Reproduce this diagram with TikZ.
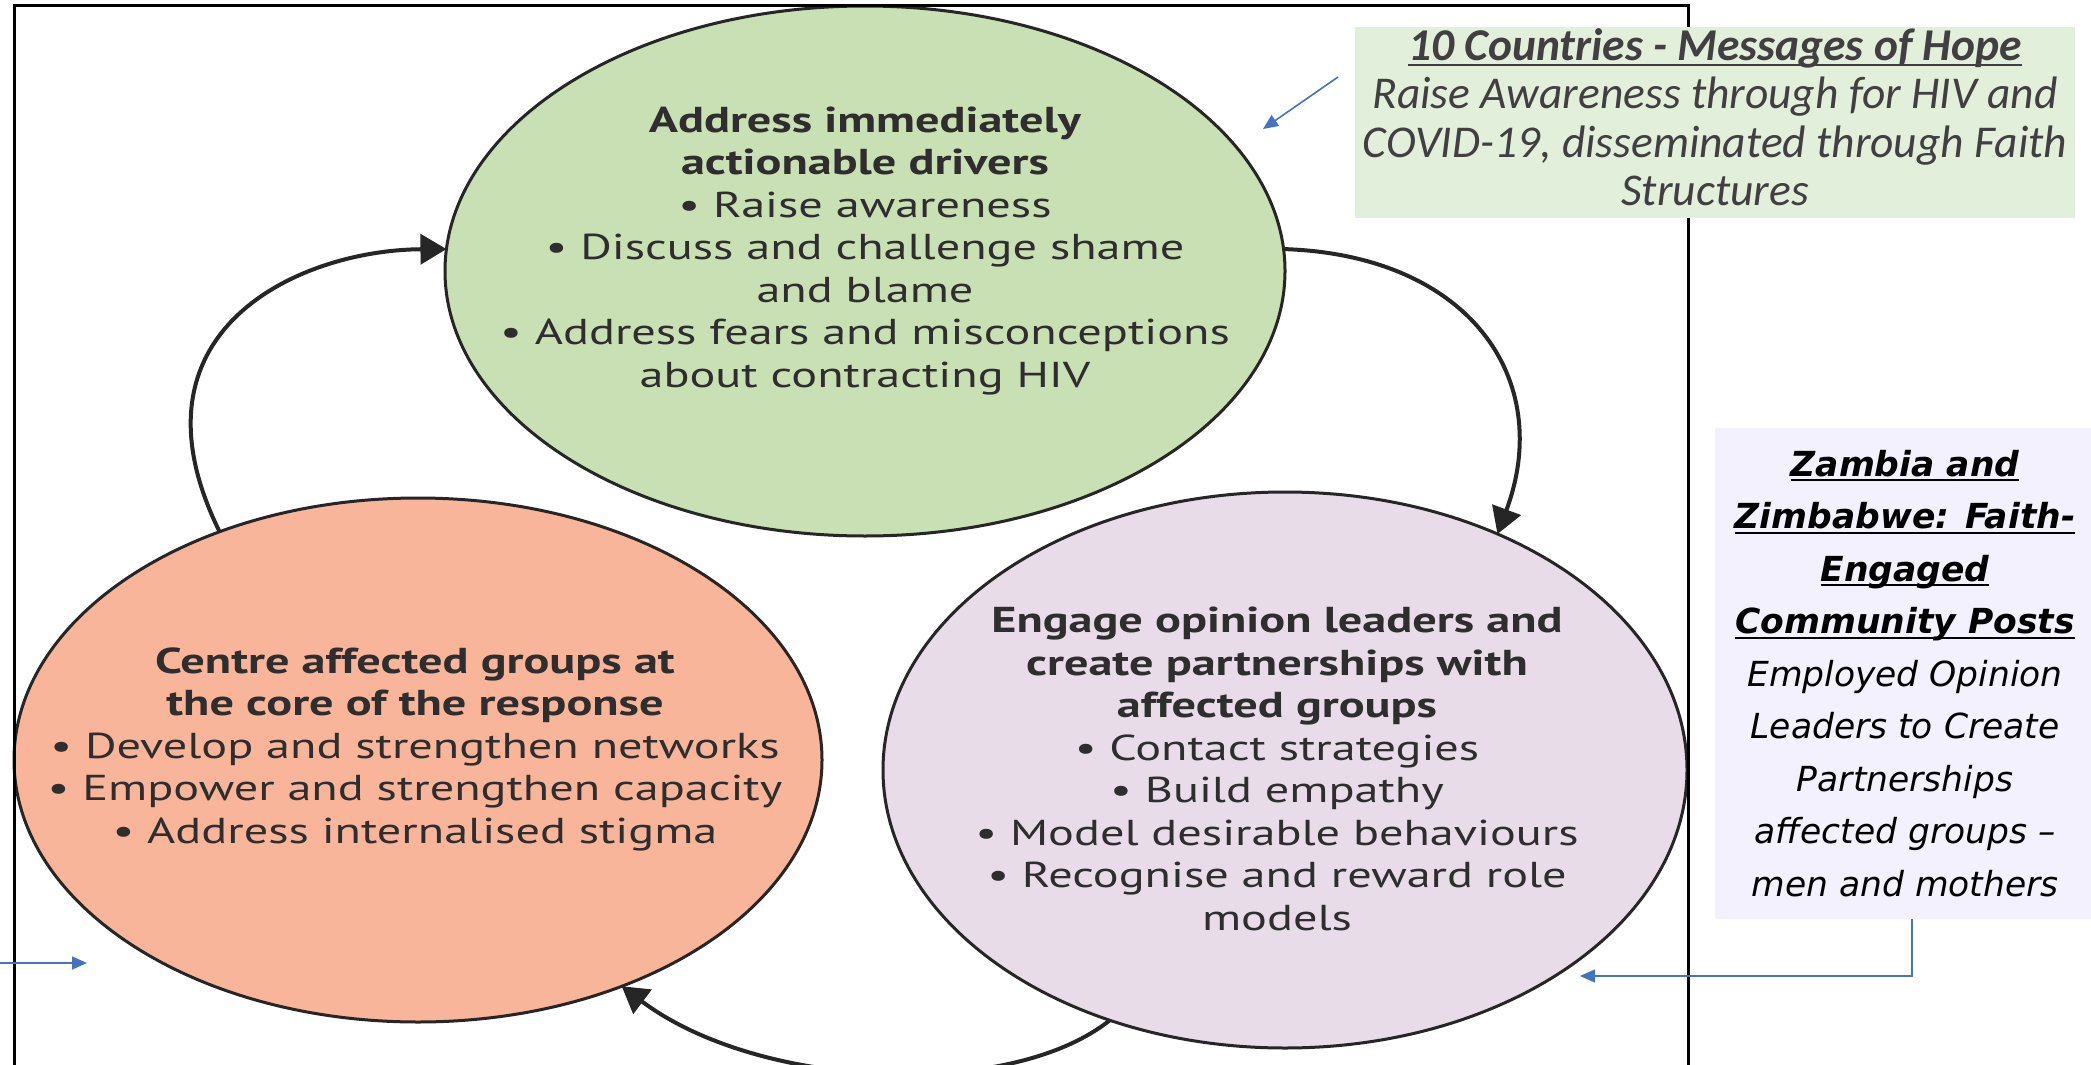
\documentclass[tikz,border=0pt]{standalone}
\usepackage{fontspec}
\setmainfont{PT Sans}
\newfontfamily\ellfont[FakeStretch=1.34]{PT Sans}
\newfontfamily\calfont{Carlito}
\newfontfamily\verfont{DejaVu Sans}
\usetikzlibrary{shapes.geometric,arrows.meta}
\definecolor{gfill}{HTML}{C9E0B4}
\definecolor{sfill}{HTML}{F8B59A}
\definecolor{pfill}{HTML}{E8DCE8}
\definecolor{cafill}{HTML}{E2EFDA}
\definecolor{cbfill}{HTML}{F3F1FD}
\definecolor{ink}{HTML}{2E2E2E}
\definecolor{calink}{HTML}{404040}
\definecolor{bluel}{HTML}{4472C4}
\newcommand\ulx[1]{\setbox0\hbox{#1}\rlap{\rule[-0.14em]{\wd0}{0.06em}}\box0}
\begin{document}
\begin{tikzpicture}[x=1pt,y=-1pt,
  ell/.style={ellipse, draw=black!85, line width=3pt, inner sep=0pt, outer sep=0pt},
  elltext/.style={align=center, inner sep=0pt, text=ink, font=\ellfont\fontsize{36}{42.5}\selectfont},
  cyclearrow/.style={line width=4pt, draw=black!85, -{Triangle[length=26pt,width=30pt]}},
  bluearrow/.style={line width=1.6pt, draw=bluel, -{Triangle[length=15pt,width=13pt]}},
  boxa/.style={rectangle, fill=cafill, minimum width=720pt, minimum height=191pt, inner sep=0pt},
  calla/.style={align=center, inner sep=0pt, text=calink, font=\calfont\itshape\fontsize{45.5}{48.5}\selectfont},
  callb/.style={rectangle, fill=cbfill, minimum width=380pt, minimum height=491pt, inner sep=0pt, align=center, text=black, font=\verfont\itshape\fontsize{34.5}{52.5}\selectfont}
]
\useasboundingbox[fill=white] (0,0) rectangle (2091,1065);

% ellipses
\node[ell, fill=gfill, minimum width=840pt, minimum height=530pt] (green) at (865,271) {};
\node[ell, fill=sfill, minimum width=808pt, minimum height=524pt] (salmon) at (418,760) {};
\node[ell, fill=pfill, minimum width=804pt, minimum height=556pt] (pink) at (1285,770) {};

% ellipse texts
\node[elltext] (gtext) at (865,251) {\textbf{Address immediately}\\\textbf{actionable drivers}\\• Raise awareness\\• Discuss and challenge shame\\and blame\\• Address fears and misconceptions\\about contracting HIV};
\node[elltext] (stext) at (415,749) {\textbf{Centre affected groups at}\\\textbf{the core of the response}\\• Develop and strengthen networks\\• Empower and strengthen capacity\\• Address internalised stigma};
\node[elltext] (ptext) at (1277,769) {\textbf{Engage opinion leaders and}\\\textbf{create partnerships with}\\\textbf{affected groups}\\• Contact strategies\\• Build empathy\\• Model desirable behaviours\\• Recognise and reward role\\models};

% cycle arrows
\draw[cyclearrow] (salmon.131) .. controls (120,330) and (300,250) .. (green.177);
\draw[cyclearrow] (green.3) .. controls (1470,255) and (1555,380) .. (pink.48);
\draw[cyclearrow] (pink.235) .. controls (1010,1100) and (760,1090) .. (salmon.312);

% frame
\draw[line width=3pt, black] (14,1070) -- (14,6) -- (1688,6) -- (1688,1070);

% callouts
\node[boxa] (c1) at (1715,122.5) {};
\node[calla] (c1t) at (1715,117) {\ulx{\textbf{10 Countries - Messages of Hope}}\\Raise Awareness through for HIV and\\COVID-19, disseminated through Faith\\Structures};
\node[callb] (c2) at (1905,673.5) {\ulx{\textbf{Zambia and}}\\\ulx{\textbf{Zimbabwe: Faith-}}\\\ulx{\textbf{Engaged}}\\\ulx{\textbf{Community Posts}}\\Employed Opinion\\Leaders to Create\\Partnerships\\affected groups –\\men and mothers};

% blue pointers
\coordinate (a1s) at (1338,77);
\coordinate (a1e) at (1263,129);
\draw[bluearrow] (a1s) -- (a1e);
\coordinate (b1s) at (0,963);
\coordinate (b1e) at (87,963);
\draw[bluearrow] (b1s) -- (b1e);
\coordinate (c2e) at (1580,976);
\draw[bluearrow] ([xshift=7pt]c2.south) |- (c2e);
\end{tikzpicture}
\end{document}
